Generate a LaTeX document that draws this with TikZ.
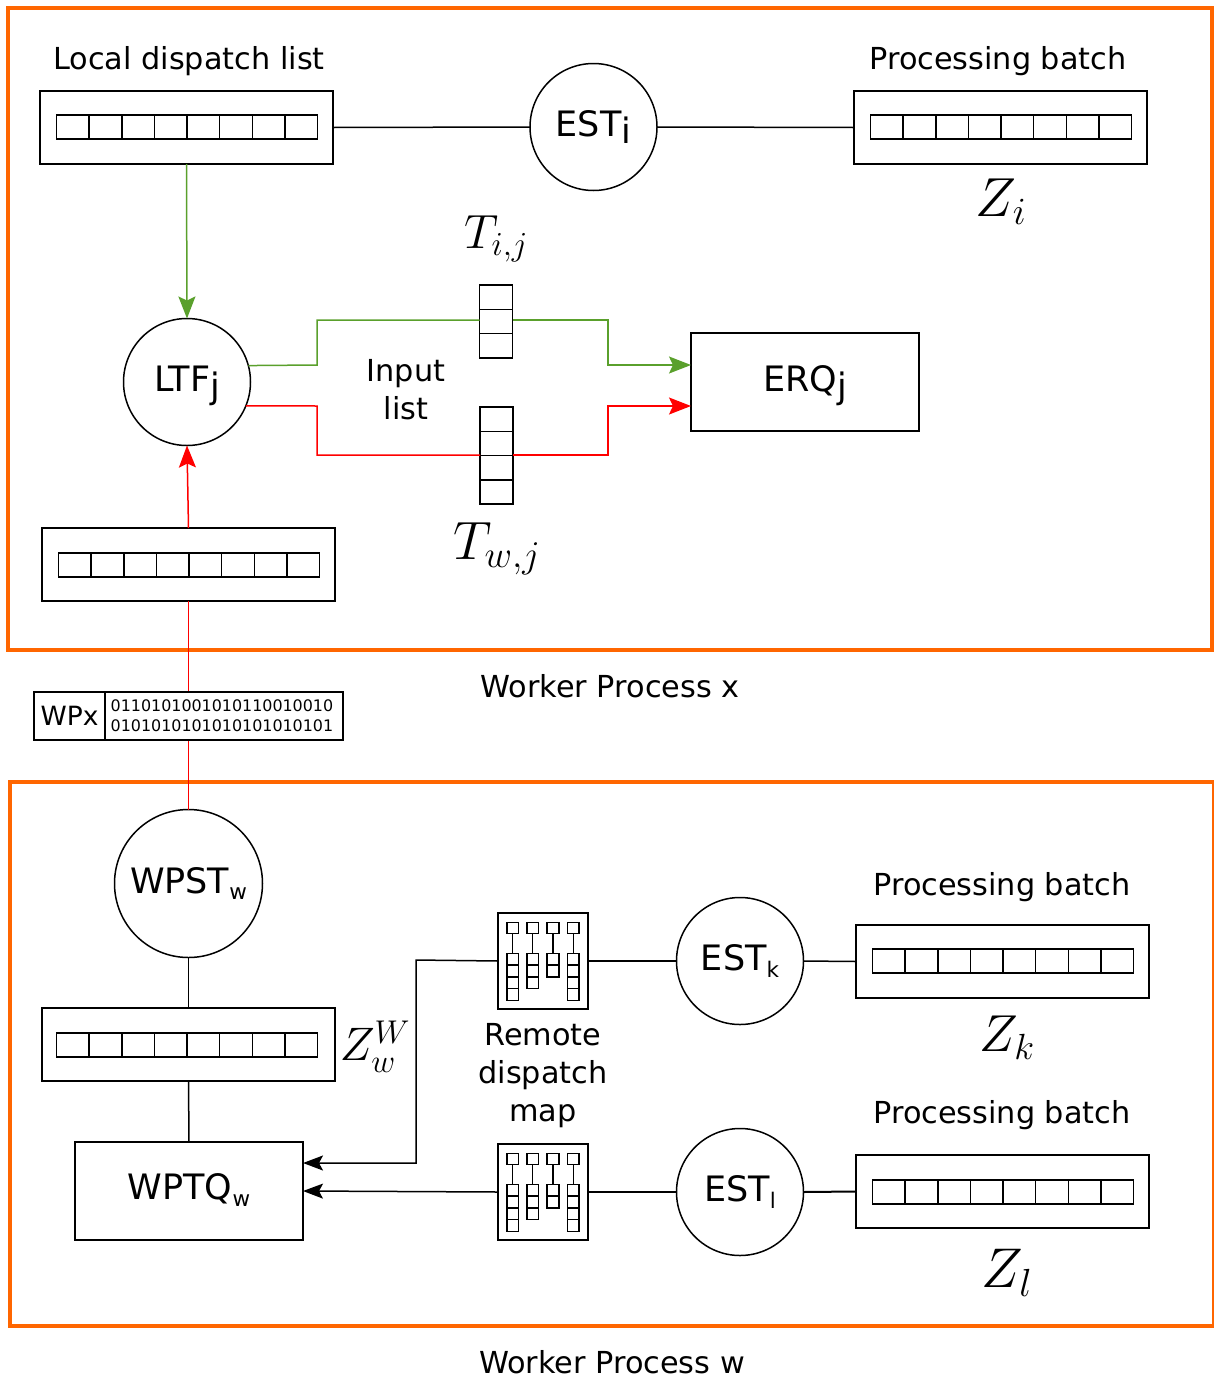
\documentclass[tikz,border=0pt]{standalone}
\usepackage{fix-cm}
\usepackage{fontspec}
\setmainfont{DejaVu Sans}
\usetikzlibrary{arrows.meta}
\definecolor{frameorange}{HTML}{FF6600}
\definecolor{flowgreen}{HTML}{5AA02C}
\definecolor{flowred}{HTML}{FF0000}
\newcommand\subtxt[1]{\raisebox{-6.5pt}{#1}}
\newcommand\subsmall[1]{\raisebox{-6.5pt}{\fontsize{21.5}{21.5}\selectfont #1}}
\newcommand\centred[1]{\raisebox{-9.5pt}[0pt][0pt]{#1}}
\tikzset{
  x=1pt,y=-1pt,
  frame/.style={draw=frameorange,line width=3.5pt},
  outer/.style={draw,minimum width=293pt,minimum height=73pt,inner sep=0pt,outer sep=0pt},
  cell/.style={draw,line width=1.5pt},
  cnode/.style={draw,circle,minimum size=#1,inner sep=0pt,outer sep=0pt,font=\fontsize{35}{35}\selectfont},
  rnode/.style={draw,inner sep=0pt,outer sep=0pt,font=\fontsize{35}{35}\selectfont},
  mixbox/.style={draw,minimum width=90pt,minimum height=96pt,inner sep=0pt,outer sep=0pt},
  lab/.style={inner sep=0pt,font=\fontsize{30.3}{38.3}\selectfont,align=center},
  mathlab/.style={inner sep=0pt,font=\fontsize{#1}{#1}\selectfont},
  garrow/.style={draw=flowgreen,-{Stealth[length=22pt,width=17pt,inset=4pt]}},
  rarrow/.style={draw=flowred,-{Stealth[length=22pt,width=17pt,inset=4pt]}},
  barrow/.style={-{Stealth[length=20pt,width=15pt,inset=4pt]}},
}
% name, centre x, centre y, left edge of the cells, top of the cells
\newcommand\queuebox[5]{%
  \node[outer] (#1) at (#2,#3) {};
  \foreach \k in {0,...,7}{
    \draw[cell] ({#4+\k*32.625},#5) rectangle ({#4+(\k+1)*32.625},#5+24);
  }
}
% name, left, top
\newcommand\mixer[3]{%
  \node[mixbox] (#1) at (#2+45,#3+48) {};
  \foreach \cx/\n in {14.7/4,34.7/3,55/2,75.3/4}{
    \draw[cell] (#2+\cx-5.8,#3+9.5) rectangle (#2+\cx+5.8,#3+20.5);
    \draw[cell] (#2+\cx,#3+20.5) -- (#2+\cx,#3+40.5);
    \foreach \r in {1,...,\n}{
      \draw[cell] (#2+\cx-5.8,{#3+40.5+(\r-1)*11.7}) rectangle (#2+\cx+5.8,{#3+40.5+\r*11.7});
    }
  }
}
\begin{document}
\begin{tikzpicture}[line width=1.5pt]
\useasboundingbox (0,0) rectangle (1213,1379);
% frames
\draw[frame] (8,8) rectangle (1212,650);
\draw[frame] (10,782) rectangle (1214,1326);
% queues
\queuebox{qa}{186.5}{127.5}{56.5}{115}
\queuebox{qb}{1000.5}{127.5}{870.5}{115}
\queuebox{qc}{188.5}{564.5}{58.5}{553}
\queuebox{qd}{188.5}{1044.5}{56.5}{1033}
\queuebox{qe}{1002.5}{961.5}{872.5}{949}
\queuebox{qf}{1002.5}{1191.5}{872.5}{1180}
% circles
\node[cnode=127pt] (esti) at (593.5,127) {\centred{EST\subtxt{i}}};
\node[cnode=127pt] (ltf) at (187,382) {\centred{LTF\subtxt{j}}};
\node[cnode=148pt] (wpst) at (188.5,883.5) {\centred{WPST\subsmall{w}}};
\node[cnode=127pt] (estk) at (740,961) {\centred{EST\subsmall{k}}};
\node[cnode=127pt] (estl) at (740,1192) {\centred{EST\subsmall{l}}};
% rectangles
\node[rnode,minimum width=228pt,minimum height=98pt] (erq) at (805,382) {\centred{ERQ\subtxt{j}}};
\node[rnode,minimum width=228pt,minimum height=98pt] (wptq) at (189,1191) {\raisebox{2pt}{\centred{WPTQ\subsmall{w}}}};
% stacks
\node[draw,minimum width=33pt,minimum height=73pt,inner sep=0pt,outer sep=0pt] (tij) at (496,321.5) {};
\draw[cell] (tij.north west)++(0,24.3) -- +(33,0) ++(0,24.3) -- +(33,0);
\node[draw,minimum width=33pt,minimum height=97pt,inner sep=0pt,outer sep=0pt] (twj) at (496.5,455.5) {};
\draw[cell] (twj.north west)++(0,24.25) -- +(33,0) ++(0,24.25) -- +(33,0) ++(0,24.25) -- +(33,0);
% mixers
\mixer{ma}{498}{913}
\mixer{mb}{498}{1144}
% connectors
\draw (qa.east) -- (esti.west);
\draw (esti.east) -- (qb.west);
\draw[garrow] (qa.south) -- (ltf.north);
\draw[rarrow] (qc.north) -- (ltf.south);
\coordinate (erqg) at (erq.west |- 0,365);
\coordinate (erqr) at (erq.west |- 0,406);
\coordinate (tijw) at (tij.west |- 0,320);
\coordinate (tije) at (tij.east |- 0,320);
\coordinate (twjw) at (twj.west |- 0,455);
\coordinate (twje) at (twj.east |- 0,455);
\draw[draw=flowgreen] (ltf.15.6) -- (317,365) -- (317,320) -- (tijw);
\draw[garrow] (tije) -- (608,320) -- (608,365) -- (erqg);
\draw[draw=flowred] (ltf.-22.4) -- (317,406) -- (317,455) -- (twjw);
\draw[rarrow] (twje) -- (608,455) -- (608,406) -- (erqr);
\draw[draw=flowred] (qc.south) -- (wpst.north);
\draw (wpst.south) -- (qd.north);
\draw (qd.south) -- (wptq.north);
\draw (ma.east) -- (estk.west);
\draw (estk.east) -- (qe.west);
\draw (mb.east) -- (estl.west);
\draw[line width=2pt] (estl.east) -- (qf.west);
\coordinate (wptqa) at (wptq.east |- 0,1163);
\draw[barrow] (ma.west) -- (416,960) -- (416,1163) -- (wptqa);
\draw[barrow] (mb.west) -- (wptq.east);
% header packet
\node[draw,fill=white,minimum width=71pt,minimum height=48pt,inner sep=0pt,outer sep=0pt,font=\fontsize{26.5}{26.5}\selectfont] (wpx) at (69.5,716) {WPx};
\node[draw,fill=white,minimum width=238pt,minimum height=48pt,inner sep=0pt,outer sep=0pt,font=\fontsize{15.9}{20}\selectfont,align=center] (bits) at (224,716) {0110101001010110010010\hspace*{4pt}\\0101010101010101010101\hspace*{4pt}};
% labels
\node[lab] (l1) at (189,61) {Local dispatch list};
\node[lab] (l2) at (998,61) {Processing batch};
\node[lab] (l3) at (406,390) {Input\\list};
\node[lab] (l4) at (610,686.5) {Worker Process x};
\node[lab] (l5) at (612,1362.5) {Worker Process w};
\node[lab] (l6) at (1002,887.5) {Processing batch};
\node[lab] (l7) at (1002,1115.5) {Processing batch};
\node[lab] (l8) at (543,1075.5) {Remote\\dispatch\\map};
\node[mathlab=55] (m1) at (1001,201.5) {$Z_i$};
\node[mathlab=48] (m2) at (496,239) {$T_{i,j}$};
\node[mathlab=54] (m3) at (497,549) {$T_{w,j}$};
\node[mathlab=47] (m4) at (375,1047) {$Z_w^W$};
\node[mathlab=52] (m5) at (1007,1038) {$Z_k$};
\node[mathlab=56] (m6) at (1007,1273) {$Z_l$};
\end{tikzpicture}
\end{document}
